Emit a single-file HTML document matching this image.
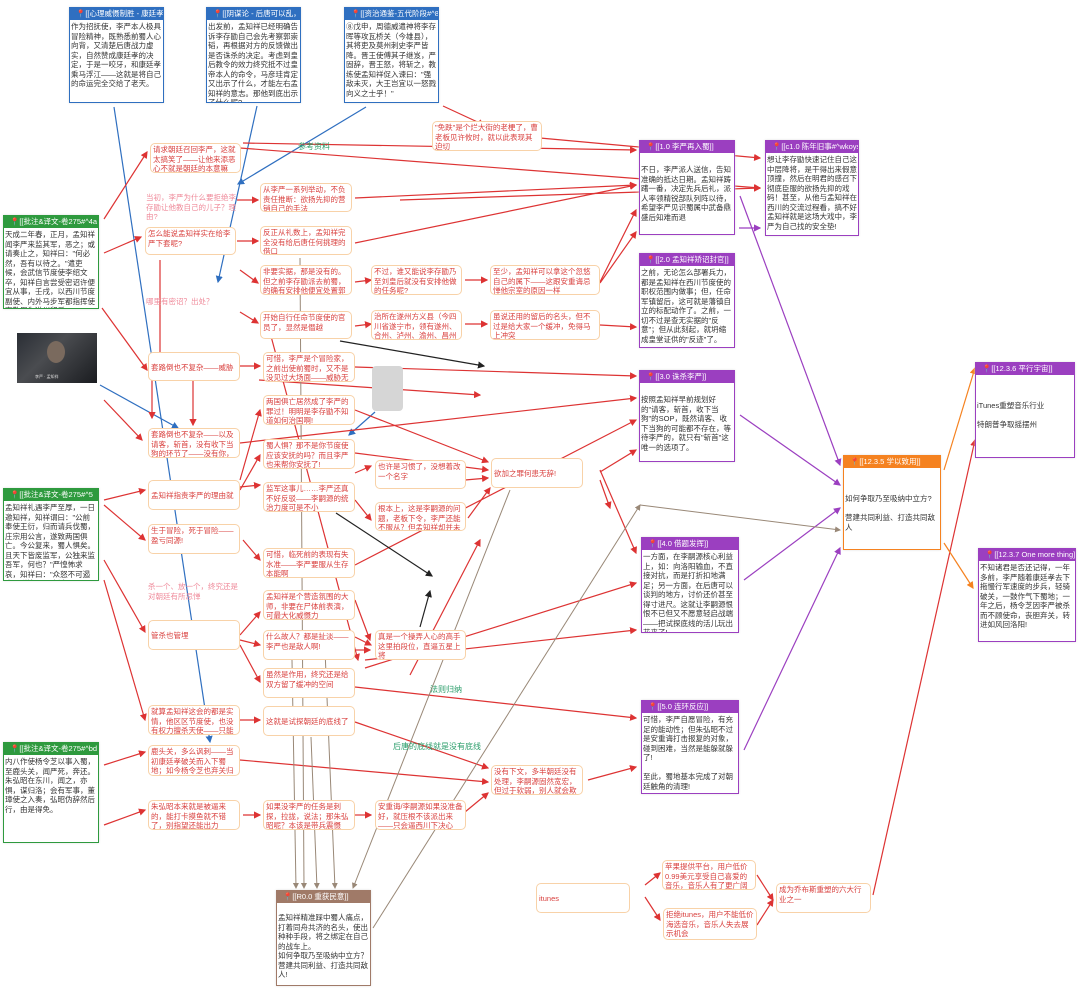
<!DOCTYPE html>
<html><head><meta charset="utf-8"><style>
body{margin:0;width:1080px;height:988px;background:#fff;position:relative;overflow:hidden;font-family:"Liberation Sans","Noto Sans CJK SC",sans-serif}
.n{position:absolute;border:1px solid #f8d2a8;border-radius:5px;color:#d9413f;font-size:7.5px;line-height:9.5px;padding:1px 2px;box-sizing:border-box;background:#fff;overflow:hidden}
.t{position:absolute;color:#ef8a9a;font-size:7.5px;line-height:9.5px}
.f{position:absolute;border:1.5px solid;box-sizing:border-box;background:#fff;overflow:hidden;box-shadow:0 0 2px #ddd}
.f .h{height:12px;color:#fff;font-size:7.5px;line-height:12px;padding-left:6px;white-space:nowrap;overflow:hidden}
.f .b{color:#333;font-size:7.5px;line-height:9.5px;padding:2px 1px}
.blue{border-color:#2f6fc0}.blue .h{background:#2f6fc0}
.green{border-color:#2e9a3e}.green .h{background:#2e9a3e}
.pur{border-color:#9b3fc0}.pur .h{background:#9b3fc0}
.org{border-color:#f58220}.org .h{background:#f58220}
.brn{border-color:#a07a68}.brn .h{background:#a07a68}
.lbl{position:absolute;color:#2a9d6a;font-size:8px}
svg{position:absolute;left:0;top:0}
</style></head><body>
<svg width="1080" height="988">
<defs>
<marker id="r" markerWidth="6" markerHeight="6" refX="5" refY="3" orient="auto"><path d="M0,0L6,3L0,6z" fill="#d33"/></marker>
<marker id="p" markerWidth="6" markerHeight="6" refX="5" refY="3" orient="auto"><path d="M0,0L6,3L0,6z" fill="#9b3fc0"/></marker>
<marker id="b" markerWidth="6" markerHeight="6" refX="5" refY="3" orient="auto"><path d="M0,0L6,3L0,6z" fill="#2f6fc0"/></marker>
<marker id="k" markerWidth="6" markerHeight="6" refX="5" refY="3" orient="auto"><path d="M0,0L6,3L0,6z" fill="#222"/></marker>
<marker id="g" markerWidth="6" markerHeight="6" refX="5" refY="3" orient="auto"><path d="M0,0L6,3L0,6z" fill="#987"/></marker>
<marker id="o" markerWidth="6" markerHeight="6" refX="5" refY="3" orient="auto"><path d="M0,0L6,3L0,6z" fill="#f58220"/></marker>
</defs>
<g stroke="#2f6fc0" stroke-width="1.2" fill="none">
<line x1="114" y1="107" x2="210" y2="742" marker-end="url(#b)"/>
<line x1="257" y1="106" x2="218" y2="282" marker-end="url(#b)"/>
<line x1="366" y1="107" x2="238" y2="184" marker-end="url(#b)"/>
<line x1="100" y1="385" x2="178" y2="428" marker-end="url(#b)"/>
<line x1="375" y1="412" x2="349" y2="435" marker-end="url(#b)"/>
</g>
<g stroke="#d33" stroke-width="1.2" fill="none" marker-end="url(#r)">
<line x1="104" y1="219" x2="147" y2="152"/>
<line x1="104" y1="253" x2="141" y2="237"/>
<line x1="104" y1="400" x2="142" y2="440"/>
<line x1="104" y1="500" x2="145" y2="490"/>
<line x1="104" y1="505" x2="145" y2="540"/>
<line x1="104" y1="560" x2="145" y2="632"/>
<line x1="104" y1="580" x2="145" y2="720"/>
<line x1="104" y1="765" x2="145" y2="752"/>
<line x1="104" y1="825" x2="145" y2="810"/>
<line x1="102" y1="308" x2="147" y2="370"/>
<line x1="237" y1="200" x2="258" y2="200"/>
<line x1="237" y1="241" x2="258" y2="241"/>
<line x1="240" y1="270" x2="258" y2="283"/>
<line x1="240" y1="312" x2="258" y2="323"/>
<line x1="240" y1="366" x2="260" y2="366"/>
<line x1="193" y1="380" x2="193" y2="425"/>
<line x1="240" y1="487" x2="260" y2="485"/>
<line x1="240" y1="480" x2="260" y2="410"/>
<line x1="240" y1="490" x2="260" y2="455"/>
<line x1="243" y1="540" x2="260" y2="560"/>
<line x1="240" y1="635" x2="260" y2="612"/>
<line x1="240" y1="640" x2="260" y2="645"/>
<line x1="240" y1="645" x2="260" y2="682"/>
<line x1="240" y1="720" x2="260" y2="720"/>
<line x1="243" y1="815" x2="260" y2="815"/>
<line x1="355" y1="815" x2="371" y2="815"/>
<line x1="465" y1="812" x2="488" y2="793"/>
<line x1="355" y1="282" x2="371" y2="280"/>
<line x1="355" y1="326" x2="371" y2="324"/>
<line x1="465" y1="280" x2="487" y2="280"/>
<line x1="465" y1="324" x2="487" y2="324"/>
<line x1="355" y1="473" x2="371" y2="466"/>
<line x1="355" y1="500" x2="371" y2="520"/>
<line x1="465" y1="480" x2="488" y2="478"/>
<line x1="468" y1="518" x2="490" y2="488"/>
<line x1="355" y1="410" x2="488" y2="462"/>
<line x1="355" y1="453" x2="488" y2="470"/>
<line x1="355" y1="637" x2="371" y2="645"/>
<line x1="355" y1="600" x2="370" y2="640"/>
<line x1="355" y1="650" x2="370" y2="650"/>
<line x1="243" y1="143" x2="636" y2="150"/>
<line x1="355" y1="198" x2="636" y2="185"/>
<line x1="355" y1="243" x2="636" y2="185"/>
<line x1="600" y1="282" x2="636" y2="210"/>
<line x1="600" y1="283" x2="636" y2="232"/>
<line x1="600" y1="325" x2="636" y2="327"/>
<line x1="240" y1="148" x2="760" y2="188"/>
<line x1="400" y1="200" x2="760" y2="188"/>
<line x1="443" y1="106" x2="484" y2="125"/>
<line x1="540" y1="138" x2="760" y2="158"/>
<line x1="355" y1="367" x2="636" y2="376"/>
<line x1="240" y1="443" x2="636" y2="398"/>
<line x1="355" y1="565" x2="636" y2="420"/>
<line x1="600" y1="472" x2="636" y2="450"/>
<line x1="600" y1="470" x2="636" y2="553"/>
<line x1="365" y1="668" x2="636" y2="583"/>
<line x1="365" y1="660" x2="636" y2="630"/>
<line x1="355" y1="687" x2="636" y2="718"/>
<line x1="355" y1="722" x2="488" y2="768"/>
<line x1="240" y1="760" x2="488" y2="782"/>
<line x1="588" y1="780" x2="636" y2="767"/>
<line x1="259" y1="380" x2="480" y2="395"/>
<line x1="410" y1="675" x2="480" y2="540"/>
<line x1="268" y1="325" x2="358" y2="660"/>
<line x1="160" y1="260" x2="160" y2="370"/>
<line x1="600" y1="480" x2="610" y2="508"/>
<line x1="645" y1="885" x2="660" y2="873"/>
<line x1="645" y1="897" x2="660" y2="920"/>
<line x1="757" y1="875" x2="773" y2="900"/>
<line x1="757" y1="925" x2="773" y2="900"/>
<line x1="873" y1="895" x2="975" y2="440"/>
<line x1="152" y1="375" x2="152" y2="418"/>
</g>
<g stroke="#9b3fc0" stroke-width="1.2" fill="none" marker-end="url(#p)">
<line x1="739" y1="228" x2="760" y2="228"/>
<line x1="740" y1="196" x2="840" y2="465"/>
<line x1="740" y1="415" x2="840" y2="485"/>
<line x1="744" y1="580" x2="840" y2="508"/>
<line x1="744" y1="750" x2="840" y2="548"/>
</g>
<g stroke="#f58220" stroke-width="1.2" fill="none" marker-end="url(#o)">
<line x1="944" y1="470" x2="975" y2="368"/>
<line x1="944" y1="543" x2="973" y2="588"/>
</g>
<g stroke="#222" stroke-width="1.2" fill="none" marker-end="url(#k)">
<line x1="340" y1="341" x2="484" y2="366"/>
<line x1="336" y1="513" x2="432" y2="576"/>
<line x1="420" y1="627" x2="430" y2="591"/>
</g>
<g stroke="#987" stroke-width="1" fill="none" marker-end="url(#g)">
<line x1="300" y1="258" x2="304" y2="888"/>
<line x1="292" y1="660" x2="296" y2="888"/>
<line x1="311" y1="737" x2="317" y2="888"/>
<line x1="325" y1="650" x2="335" y2="888"/>
<line x1="510" y1="490" x2="353" y2="888"/>
<line x1="373" y1="928" x2="640" y2="505"/>
<line x1="640" y1="505" x2="840" y2="530"/>
</g>
</svg>

<div class="f blue" style="left:69px;top:7px;width:95px;height:96px"><div class="h">📍[[心理威慑制胜 - 康廷孝升</div><div class="b">作为招抚使，李严本人极具冒险精神，既熟悉前蜀人心向背，又清楚后唐战力虚实，自然赞成康廷孝的决定，于是一咬牙，和康廷孝乘马浮江——这就是将自己的命运完全交给了老天。</div></div>
<div class="f blue" style="left:206px;top:7px;width:95px;height:96px"><div class="h">📍[[阴谋论 - 后唐可以乱，朝</div><div class="b">出发前，孟知祥已经明确告诉李存勖自己会先考察郭崇韬，再根据对方的反馈做出是否诛杀的决定。考虑到皇后教令的效力终究抵不过皇帝本人的命令，马彦珪肯定又出示了什么，才能左右孟知祥的意志。那他到底出示了什么呢?</div></div>
<div class="f blue" style="left:344px;top:7px;width:95px;height:96px"><div class="h">📍[[资治通鉴-五代阶段#^83</div><div class="b">⑧戊申，周德威遣神将李存晖等攻瓦桥关（今雄县），其将吏及莫州刺史李严皆降。晋王使傅其子继岌，严固辞，晋王怒，将斩之，教练使孟知祥促入谏曰："强敌未灭，大王岂宜以一怒戮向义之士乎！"</div></div>

<div class="f green" style="left:3px;top:215px;width:96px;height:94px"><div class="h">📍[[批注&译文-卷275#^4a</div><div class="b">天成二年春，正月，孟知祥闻李严来监其军，恶之；或请奏止之，知祥曰："何必然，吾有以待之。"遣吏候，会武信节度使李绍文卒，知祥自言尝受密诏许便宜从事，壬戌，以西川节度副使、内外马步军都指挥使李敬周为遂州留后</div></div>
<div style="position:absolute;left:17px;top:333px;width:80px;height:50px;background:linear-gradient(135deg,#2a2e35,#4a4c50 40%,#1a1c20);"><div style="position:absolute;left:30px;top:8px;width:18px;height:22px;border-radius:50%;background:#7a6a5e"></div><div style="position:absolute;bottom:3px;left:18px;font-size:4px;color:#ddd">李严 · 孟知祥</div></div>
<div class="f green" style="left:3px;top:488px;width:96px;height:93px"><div class="h">📍[[批注&译文-卷275#^5</div><div class="b">孟知祥礼遇李严至厚，一日邀知祥，知祥谓曰："公前奉使王衍，归而请兵伐蜀，庄宗用公言，遂致两国俱亡。今公复来，蜀人惧矣。且天下皆废监军，公独来监吾军，何也？"严惶怖求哀，知祥曰："众怒不可遏也。"遂揖下，斩之。</div></div>
<div class="f green" style="left:3px;top:742px;width:96px;height:101px"><div class="h">📍[[批注&译文-卷275#^bd</div><div class="b">内八作使杨令芝以事入蜀，至鹿头关，闻严死，奔还。朱弘昭在东川，闻之，亦惧，谋归洛；会有军事，董璋使之入奏，弘昭伪辞然后行，由是得免。</div></div>

<div class="n" style="left:150px;top:143px;width:91px;height:30px">请求朝廷召回李严，这就太搞笑了——让他来添恶心不就是朝廷的本意嘛</div>
<div class="t" style="left:146px;top:193px;width:95px">当初，李严为什么要拒绝李存勖让他教自己的儿子？理由?</div>
<div class="n" style="left:145px;top:227px;width:91px;height:28px">怎么能说孟知祥实在给李严下套呢?</div>
<div class="t" style="left:146px;top:297px">哪里有密诏？出处？</div>
<div class="n" style="left:260px;top:183px;width:92px;height:29px">从李严一系列举动，不负责任推断：欲扬先抑的营销自己的手法</div>
<div class="n" style="left:260px;top:226px;width:92px;height:29px">反正从礼数上，孟知祥完全没有给后唐任何挑理的借口</div>
<div class="n" style="left:260px;top:265px;width:92px;height:30px">非要实据，那是没有的。但之前李存勖派去前蜀，的确有安排他便宜处置郭崇韬</div>
<div class="n" style="left:371px;top:265px;width:91px;height:30px">不过，谁又能说李存勖乃至刘皇后就没有安排他做的任务呢?</div>
<div class="n" style="left:490px;top:265px;width:110px;height:30px">至少，孟知祥可以拿这个忽悠自己的属下——这跟安重诲忌惮他宗室的原因一样</div>
<div class="n" style="left:260px;top:311px;width:92px;height:28px">开始自行任命节度使的官员了，显然是僭越</div>
<div class="n" style="left:371px;top:310px;width:91px;height:30px">治所在遂州方义县（今四川省遂宁市，领有遂州、合州、泸州、渝州、昌州等五州</div>
<div class="n" style="left:490px;top:310px;width:110px;height:30px">虽说还用的留后的名头，但不过是给大家一个缓冲，免得马上冲突</div>
<div class="n" style="left:432px;top:121px;width:110px;height:30px">"免跌"是个烂大街的老梗了，曹老板见许攸时，就以此表现其迫切</div>

<div class="n" style="left:148px;top:352px;width:92px;height:29px;line-height:27px">套路倒也不复杂——威胁</div>
<div class="n" style="left:263px;top:352px;width:92px;height:30px">可惜，李严是个冒险家，之前出使前蜀时，又不是没见过大场面——威胁无效了</div>
<div style="position:absolute;left:372px;top:366px;width:31px;height:45px;background:#d6d6d6;border-radius:4px"></div>
<div class="n" style="left:263px;top:395px;width:92px;height:30px">两国俱亡居然成了李严的罪过！明明是李存勖不知道如何治国啊!</div>
<div class="n" style="left:148px;top:428px;width:92px;height:30px">套路倒也不复杂——以及请客，斩首，没有收下当狗的环节了——没有你，对我很重要</div>
<div class="n" style="left:263px;top:439px;width:92px;height:30px">蜀人惧？那不是你节度使应该安抚的吗？而且李严也来帮你安抚了!</div>
<div class="n" style="left:148px;top:480px;width:92px;height:30px;line-height:27px">孟知祥指责李严的理由就离谱</div>
<div class="n" style="left:263px;top:482px;width:92px;height:30px">监军这事儿……李严还真不好反驳——李嗣源的统治力度可是不小</div>
<div class="n" style="left:375px;top:460px;width:91px;height:29px">也许是习惯了，没想着改一个名字</div>
<div class="n" style="left:375px;top:502px;width:91px;height:29px">根本上，这是李嗣源的问题，老板下令，李严还能不服从？但孟知祥却并未指责李嗣源</div>
<div class="n" style="left:491px;top:458px;width:92px;height:30px;line-height:27px">欲加之罪何患无辞!</div>
<div class="n" style="left:148px;top:524px;width:92px;height:30px">生于冒险，死于冒险——盈亏同源!</div>
<div class="t" style="left:148px;top:582px;width:92px">杀一个、放一个，终究还是对朝廷有所忌惮</div>
<div class="n" style="left:263px;top:548px;width:92px;height:30px">可惜，临死前的表现有失水准——李严要服从生存本能啊</div>
<div class="n" style="left:263px;top:590px;width:92px;height:30px">孟知祥是个营造氛围的大师，非要在尸体前表演，可最大化威慑力</div>
<div class="n" style="left:148px;top:620px;width:92px;height:30px;line-height:27px">管杀也管埋</div>
<div class="n" style="left:263px;top:630px;width:92px;height:30px">什么故人？都是扯淡——李严也是敌人啊!</div>
<div class="n" style="left:375px;top:630px;width:91px;height:30px">真是一个操弄人心的高手这里拍段位，直逼五星上将</div>
<div class="n" style="left:263px;top:668px;width:92px;height:30px">虽然是作用，终究还是给双方留了缓冲的空间</div>
<div class="n" style="left:148px;top:705px;width:92px;height:30px">就算孟知祥这会的都是实情，他区区节度使，也没有权力擅杀天使——只能试探朝廷</div>
<div class="n" style="left:263px;top:706px;width:92px;height:30px;line-height:27px">这就是试探朝廷的底线了</div>
<div class="n" style="left:148px;top:745px;width:92px;height:31px">鹿头关，多么讽刺——当初康廷孝破关而入下蜀地；如今杨令芝也弃关归洛阳</div>
<div class="n" style="left:148px;top:800px;width:92px;height:30px">朱弘昭本来就是被逼来的，能打卡摸鱼就不错了，别指望还能出力</div>
<div class="n" style="left:263px;top:800px;width:92px;height:30px">如果没李严的任务是刺探，拉拢，说法；那朱弘昭呢？本该是带兵震慑</div>
<div class="n" style="left:375px;top:800px;width:91px;height:30px">安重诲/李嗣源如果没准备好，就压根不该派出来——只会逼西川下决心</div>
<div class="n" style="left:491px;top:765px;width:92px;height:30px">没有下文，多半朝廷没有处理，李嗣源固然宽宏，但过于软弱，别人就会欺负上头</div>

<div class="lbl" style="left:298px;top:141px">参考资料</div>
<div class="lbl" style="left:430px;top:684px">法则归纳</div>
<div class="lbl" style="left:393px;top:741px">后唐的底线就是没有底线</div>

<div class="f pur" style="left:639px;top:140px;width:96px;height:95px"><div class="h">📍[[1.0 李严再入蜀]]</div><div class="b" style="padding-top:12px">不日，李严派人送信，告知准确的抵达日期。孟知祥踌躇一番，决定先兵后礼，派人率领精锐部队列阵以待，希望李严见识蜀属中武备鼎盛后知难而退</div></div>
<div class="f pur" style="left:765px;top:140px;width:94px;height:96px"><div class="h">📍[[c1.0 陈年旧事#^wkoys]]</div><div class="b">想让李存勖快速记住自己这中层降将，是干得出来假意顶撞，然后在明君的感召下彻底臣服的欲扬先抑的戏码！甚至，从他与孟知祥在西川的交流过程看，搞不好孟知祥就是这场大戏中，李严为自己找的安全垫!</div></div>
<div class="f pur" style="left:639px;top:253px;width:96px;height:95px"><div class="h">📍[[2.0 孟知祥矫诏封官]]</div><div class="b">之前，无论怎么部署兵力，都是孟知祥在西川节度使的职权范围内做事；但，任命军镇留后，这可就是藩镇自立的标配动作了。之前，一切不过是查无实据的"反意"；但从此刻起，就坍缩成皇堂证供的"反迹"了。</div></div>
<div class="f pur" style="left:639px;top:370px;width:96px;height:92px"><div class="h">📍[[3.0 诛杀李严]]</div><div class="b" style="padding-top:12px">按照孟知祥早前规划好的"请客，斩首，收下当狗"的SOP，既然请客、收下当狗的可能都不存在，等待李严的，就只有"斩首"这唯一的选项了。</div></div>
<div class="f pur" style="left:641px;top:537px;width:98px;height:96px"><div class="h">📍[[4.0 借题发挥]]</div><div class="b">一方面，在李嗣源核心利益上，如：向洛阳输血，不直接对抗，而是打折扣地满足；另一方面，在后唐可以谈判的地方，讨价还价甚至得寸进尺。这就让李嗣源恨恨不已但又不愿意轻启战端——把试探底线的活儿玩出花来了!</div></div>
<div class="f pur" style="left:641px;top:700px;width:98px;height:94px"><div class="h">📍[[5.0 连环反应]]</div><div class="b">可惜，李严自愿冒险，有充足的能动性；但朱弘昭不过是安重诲打击报复的对象，碰到困难，当然是能躲就躲了!<br><br>至此，蜀地基本完成了对朝廷触角的清理!</div></div>
<div class="f org" style="left:843px;top:455px;width:98px;height:95px"><div class="h">📍[[12.3.5 学以致用]]</div><div class="b" style="padding-top:26px">如何争取乃至吸纳中立方?<br><br>营建共同利益、打造共同敌人</div></div>
<div class="f pur" style="left:975px;top:362px;width:100px;height:96px"><div class="h">📍[[12.3.6 平行宇宙]]</div><div class="b" style="padding-top:26px">iTunes重塑音乐行业<br><br>特朗普争取摇摆州</div></div>
<div class="f pur" style="left:978px;top:548px;width:98px;height:94px"><div class="h">📍[[12.3.7 One more thing]]</div><div class="b">不知诸君是否还记得，一年多前，李严随着康廷孝去下拖慢行军速度的步兵，轻骑破关，一鼓作气下蜀地；一年之后，杨令芝因李严被杀而不顾使命，丧胆弃关，转进如风回洛阳!</div></div>
<div class="f brn" style="left:276px;top:890px;width:95px;height:96px"><div class="h">📍[[R0.0 重获民意]]</div><div class="b" style="padding-top:10px">孟知祥精准踩中蜀人痛点，打着同舟共济的名头，使出种种手段，将之绑定在自己的战车上。<br>如何争取乃至吸纳中立方？营建共同利益、打造共同敌人!</div></div>

<div class="n" style="left:536px;top:883px;width:94px;height:30px;line-height:27px">itunes</div>
<div class="n" style="left:662px;top:860px;width:94px;height:30px">苹果提供平台，用户低价0.99美元享受自己喜爱的音乐，音乐人有了更广阔的市场，三赢</div>
<div class="n" style="left:663px;top:908px;width:94px;height:32px">拒绝itunes，用户不能低价海选音乐，音乐人失去展示机会</div>
<div class="n" style="left:776px;top:883px;width:95px;height:30px">成为乔布斯重塑的六大行业之一</div>
</body></html>
